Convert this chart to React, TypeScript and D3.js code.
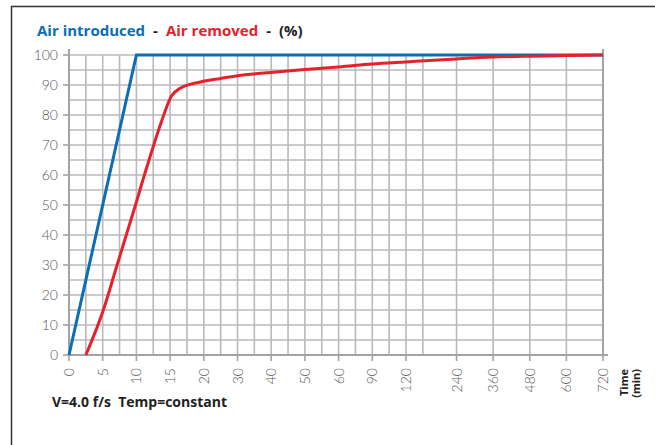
import { useEffect, useRef } from 'react';
import * as d3 from 'd3';

// time axis ticks (minutes), not evenly spaced on the drawing
const timeTicks = [0, 5, 10, 15, 20, 30, 40, 50, 60, 90, 120, 240, 360, 480, 600, 720];
const percentTicks = [0, 10, 20, 30, 40, 50, 60, 70, 80, 90, 100];

// air introduced (%)
const introTime = [0, 10, 720];
const introValue = [0, 100, 100];

// air removed (%)
const removedTime = [2.5, 5.1, 7, 8.7, 10, 11.25, 12.5, 13.75, 15.2, 16.5, 19.5, 25, 30, 40, 50, 60, 90, 120, 240, 360, 480, 600, 720];
const removedValue = [0, 15, 29, 41.5, 51, 60.5, 69.5, 78, 86.3, 88.9, 91, 92.2, 93.1, 94.2, 95.2, 96, 97, 97.7, 98.7, 99.3, 99.6, 99.8, 100];

const BLUE = '#0a6db6';
const RED = '#e8202a';

const App = () => {
  const svgRef = useRef<SVGSVGElement | null>(null);

  useEffect(() => {
    if (!svgRef.current) return;
    const width = 655;
    const height = 445;
    const svg = d3.select(svgRef.current).attr('width', width).attr('height', height);
    svg.selectAll('*').remove();

    const left = 69, right = 603, top = 55, bottom = 355;
    const step = 33.7;
    // first 11 ticks one step apart, 240 one and a half step after 120, the rest share what is left
    const rest = (right - (left + 11.5 * step)) / 4;
    const tickPos = timeTicks.map((_, i) => {
      if (i <= 10) return left + i * step;
      return left + 11.5 * step + (i - 11) * rest;
    });
    const x = d3.scaleLinear().domain(timeTicks).range(tickPos);
    const y = d3.scaleLinear().domain([0, 100]).range([bottom, top]);

    // frame
    svg.append('rect')
      .attr('x', 11.5).attr('y', 6.5)
      .attr('width', 700).attr('height', 500)
      .attr('fill', 'white').attr('stroke', '#333').attr('stroke-width', 1.5);

    const g = svg.append('g');
    const gridColor = '#b9b9bd';

    // vertical grid
    const vLines: number[] = d3.range(0, 22).map(k => left + k * step / 2);
    tickPos.slice(11).forEach(p => vLines.push(p));
    g.selectAll('line.vg').data(vLines).enter().append('line')
      .attr('class', 'vg')
      .attr('x1', d => d).attr('x2', d => d)
      .attr('y1', top).attr('y2', bottom)
      .attr('stroke', gridColor).attr('stroke-width', 1.6);

    // horizontal grid
    g.selectAll('line.hg').data(d3.range(5, 101, 5)).enter().append('line')
      .attr('class', 'hg')
      .attr('x1', left).attr('x2', right)
      .attr('y1', d => y(d)).attr('y2', d => y(d))
      .attr('stroke', gridColor).attr('stroke-width', 1.6);

    const axisColor = '#a3a3a7';
    // axes
    g.append('line').attr('x1', left).attr('x2', left).attr('y1', 49).attr('y2', bottom)
      .attr('stroke', axisColor).attr('stroke-width', 2);
    g.append('line').attr('x1', right).attr('x2', right).attr('y1', 49).attr('y2', bottom)
      .attr('stroke', axisColor).attr('stroke-width', 2);
    g.append('line').attr('x1', left).attr('x2', 608).attr('y1', bottom).attr('y2', bottom)
      .attr('stroke', axisColor).attr('stroke-width', 2);

    g.selectAll('line.yt').data(percentTicks).enter().append('line')
      .attr('class', 'yt')
      .attr('x1', left - 6).attr('x2', left)
      .attr('y1', d => y(d)).attr('y2', d => y(d))
      .attr('stroke', axisColor).attr('stroke-width', 1.6);
    g.selectAll('line.xt').data(timeTicks).enter().append('line')
      .attr('class', 'xt')
      .attr('x1', d => x(d)).attr('x2', d => x(d))
      .attr('y1', bottom).attr('y2', bottom + 6)
      .attr('stroke', axisColor).attr('stroke-width', 1.6);

    const labelFont = 'Lato, "Open Sans", sans-serif';
    g.selectAll('text.yl').data(percentTicks).enter().append('text')
      .attr('class', 'yl')
      .attr('x', 58).attr('y', d => y(d) + 5)
      .attr('text-anchor', 'end')
      .attr('font-family', labelFont).attr('font-weight', 300)
      .attr('font-size', 14).attr('fill', '#555')
      .text(d => d);

    g.selectAll('text.xl').data(timeTicks).enter().append('text')
      .attr('class', 'xl')
      .attr('transform', d => `translate(${x(d) + 5},368) rotate(-90)`)
      .attr('text-anchor', 'end')
      .attr('font-family', labelFont).attr('font-weight', 300)
      .attr('font-size', 14).attr('fill', '#555')
      .text(d => d);

    // lines
    const line = d3.line<[number, number]>()
      .x(d => x(d[0])).y(d => y(d[1]));
    g.append('path')
      .datum(introTime.map((t, i) => [t, introValue[i]] as [number, number]))
      .attr('d', line)
      .attr('fill', 'none').attr('stroke', BLUE).attr('stroke-width', 3);
    g.append('path')
      .datum(removedTime.map((t, i) => [t, removedValue[i]] as [number, number]))
      .attr('d', line.curve(d3.curveMonotoneX))
      .attr('fill', 'none').attr('stroke', RED).attr('stroke-width', 3);

    const boldFont = '"Open Sans", Lato, sans-serif';
    // title
    const title = svg.append('text')
      .attr('x', 37).attr('y', 36)
      .attr('font-family', boldFont).attr('font-weight', 700).attr('font-size', 15);
    title.append('tspan').attr('fill', BLUE).text('Air introduced');
    title.append('tspan').attr('fill', '#222').attr('dx', 8).text('-');
    title.append('tspan').attr('fill', RED).attr('dx', 8).text('Air removed');
    title.append('tspan').attr('fill', '#222').attr('dx', 8).text('-');
    title.append('tspan').attr('fill', '#222').attr('dx', 8).text('(%)');

    // axis name
    const tl = svg.append('text')
      .attr('transform', 'translate(628,369) rotate(-90)')
      .attr('text-anchor', 'end')
      .attr('font-family', boldFont).attr('font-weight', 700).attr('font-size', 11).attr('fill', '#222');
    tl.append('tspan').attr('x', 0).attr('dy', 0).text('Time');
    tl.append('tspan').attr('x', 0).attr('dy', 12).text('(min)');

    svg.append('text')
      .attr('x', 52).attr('y', 407)
      .attr('font-family', boldFont).attr('font-weight', 700).attr('font-size', 14).attr('fill', '#222')
      .attr('xml:space', 'preserve')
      .text('V=4.0 f/s  Temp=constant');
  }, []);

  return (
    <svg ref={svgRef} style={{ position: 'absolute', left: 0, top: 0 }}></svg>
  );
};

export default App;
